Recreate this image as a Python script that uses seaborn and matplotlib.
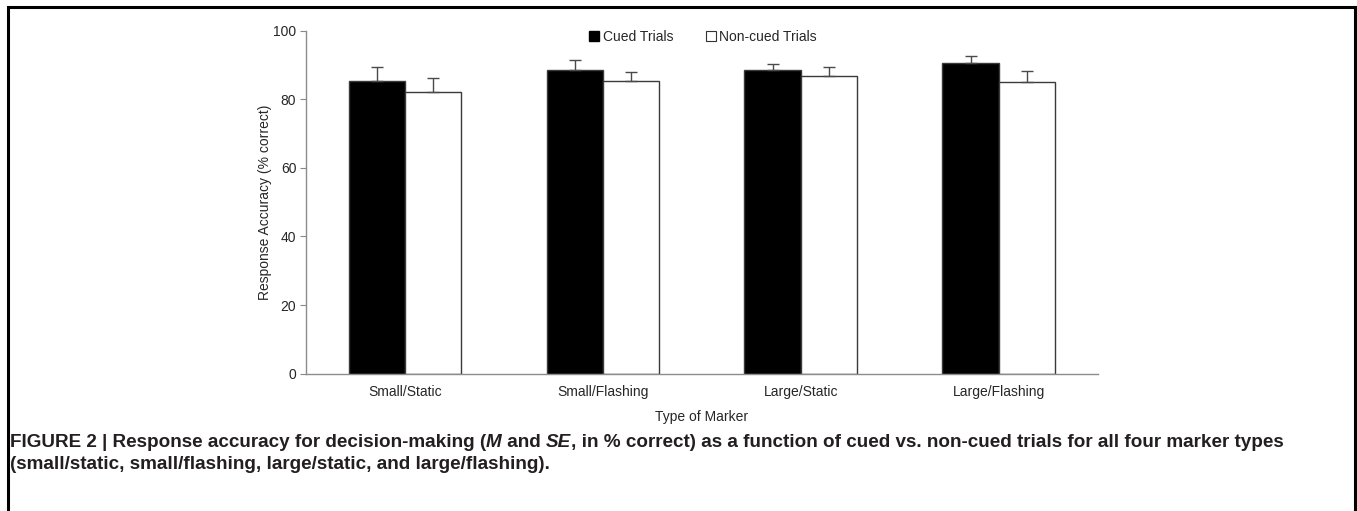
# Response accuracy bar chart (cued vs non-cued), recreated with seaborn
import pandas as pd
import matplotlib.pyplot as plt
import seaborn as sns
from matplotlib.lines import Line2D
from matplotlib.patches import Rectangle

# Data
markers = ['Small/Static', 'Small/Flashing', 'Large/Static', 'Large/Flashing']
conditions = ['Cued Trials', 'Non-cued Trials']
cued_mean = [85.2, 88.6, 88.5, 90.7]
cued_se = [4.1, 2.8, 1.8, 1.9]
noncued_mean = [82.1, 85.2, 86.9, 85.0]
noncued_se = [4.0, 2.8, 2.4, 3.2]
y_ticks = [0, 20, 40, 60, 80, 100]

df = pd.DataFrame({
    'Marker': markers * 2,
    'Condition': [conditions[0]] * 4 + [conditions[1]] * 4,
    'Accuracy': cued_mean + noncued_mean,
})

sns.set_style('white')
plt.rcParams['font.family'] = ['Liberation Sans', 'DejaVu Sans']

fig = plt.figure(figsize=(13.57, 5.11), dpi=100)
ax = fig.add_axes([0.2255, 0.2687, 0.5835, 0.6713])

sns.barplot(data=df, x='Marker', y='Accuracy', hue='Condition',
            order=markers, hue_order=conditions,
            palette=['black', 'white'], width=0.57, gap=0,
            edgecolor='#3a3a3a', linewidth=1.0, errorbar=None,
            legend=False, ax=ax)

# upper-only error bars on each bar
for cont, se in zip(ax.containers, [cued_se, noncued_se]):
    xs = [p.get_x() + p.get_width() / 2 for p in cont.patches]
    ys = [p.get_height() for p in cont.patches]
    ax.errorbar(xs, ys, yerr=[[0] * len(se), se], fmt='none',
                ecolor='#4a4a4a', elinewidth=1.0, capsize=4, capthick=1.0)

ax.set_ylim(0, 100)
ax.set_xlim(-0.5, 3.5)
ax.set_yticks(y_ticks)
ax.tick_params(axis='y', length=4, width=0.8, color='#888888',
               labelsize=10, pad=3, left=True)
ax.tick_params(axis='x', length=0, labelsize=10, pad=8)
for s in ['top', 'right']:
    ax.spines[s].set_visible(False)
for s in ['left', 'bottom']:
    ax.spines[s].set_color('#8c8c8c')
    ax.spines[s].set_linewidth(1.0)

ax.set_ylabel('Response Accuracy (% correct)', fontsize=10, labelpad=1)
ax.set_xlabel('Type of Marker', fontsize=10, labelpad=8)

handles = [
    Line2D([], [], marker='s', ls='none', markersize=7,
           markerfacecolor='black', markeredgecolor='black'),
    Line2D([], [], marker='s', ls='none', markersize=7,
           markerfacecolor='white', markeredgecolor='#333333', markeredgewidth=0.8),
]
ax.legend(handles, conditions, loc='center', bbox_to_anchor=(0.5, 0.982),
          ncol=2, frameon=False, fontsize=10, handletextpad=0.1,
          columnspacing=2.2, handlelength=1.0)

# outer frame (open at the bottom)
fig.add_artist(Rectangle((8 / 1357, -0.05), 1347 / 1357, 1.05 - 7 / 511,
                         transform=fig.transFigure, fill=False,
                         edgecolor='black', linewidth=2.2, clip_on=False))

# caption: pieces placed one after another to mix bold and bold-italic
cap = dict(fontsize=13.6, fontweight='bold', color='#231f20', va='baseline')
pieces = [('FIGURE 2 | Response accuracy for decision-making (', 'normal'),
          ('M', 'italic'), (' and ', 'normal'), ('SE', 'italic'),
          (', in % correct) as a function of cued vs. non-cued trials for all four marker types', 'normal')]
renderer = fig.canvas.get_renderer()
x0 = 10 / 1357
y1 = 1 - 447 / 511
for txt, style in pieces:
    t = fig.text(x0, y1, txt, fontstyle=style, **cap)
    bb = t.get_window_extent(renderer)
    x0 += bb.width / fig.bbox.width
fig.text(10 / 1357, 1 - 469 / 511,
         '(small/static, small/flashing, large/static, and large/flashing).', **cap)

fig.savefig('out.png', dpi=100)
